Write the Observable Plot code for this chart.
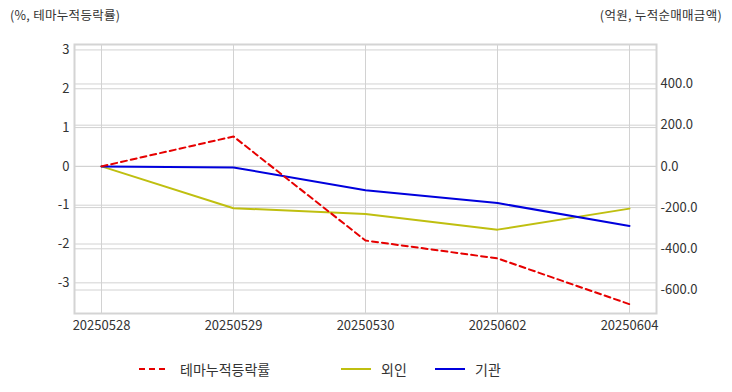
<!DOCTYPE html>
<html><head><meta charset="utf-8">
<script src="https://cdn.jsdelivr.net/npm/d3@7"></script>
<script src="https://cdn.jsdelivr.net/npm/@observablehq/plot@0.6"></script>
<style>
body{margin:0;background:#fff;font-family:"Noto Sans CJK KR","Noto Sans",sans-serif;color:#333;}
#wrap{position:relative;width:732px;height:392px;overflow:hidden;}
.t{position:absolute;top:7px;font-size:12.5px;letter-spacing:0.3px;line-height:16px;color:#333;white-space:nowrap;}
#chart{position:absolute;top:30px;left:0;}
#legend{position:absolute;top:359px;left:0;width:732px;height:20px;font-size:14px;color:#333;}
.item{position:absolute;top:0;height:20px;line-height:20px;white-space:nowrap;}
.item svg{position:absolute;top:0;left:0;}
.item span{position:absolute;top:0;}
</style>
</head><body>
<div id="wrap">
  <div class="t" style="left:10px;">(%, 테마누적등락률)</div>
  <div class="t" style="right:10px;">(억원, 누적순매매금액)</div>
  <div id="chart"></div>
  <div id="legend"></div>
</div>
<script>
const dates = ["20250528","20250529","20250530","20250602","20250604"];
const themeRate = [0, 0.77, -1.91, -2.37, -3.55];        // %, left axis
const foreignNet = [0, -203, -231, -307, -205];           // 억원, right axis
const institutionNet = [0, -5, -116, -178, -289];         // 억원, right axis
const leftTicks = [-3, -2, -1, 0, 1, 2, 3];
const rightTicks = [-600, -400, -200, 0, 200, 400];
const seriesNames = ["테마누적등락률", "외인", "기관"];
const seriesColors = ["#e60000", "#bfbf10", "#0000dd"];

const leftDomain = [-3.79, 3.14];
const rightDomain = [-713.6, 592];
const k = (rightDomain[1] - rightDomain[0]) / (leftDomain[1] - leftDomain[0]);

const themeData = dates.map((d, i) => ({date: d, v: themeRate[i]}));
const foreignData = dates.map((d, i) => ({date: d, v: foreignNet[i] / k}));
const instData = dates.map((d, i) => ({date: d, v: institutionNet[i] / k}));
const rightTickPos = rightTicks.map(v => v / k);

const chart = Plot.plot({
  width: 732, height: 310,
  marginTop: 14, marginBottom: 27, marginLeft: 74, marginRight: 76,
  style: {fontFamily: '"Noto Sans CJK KR","Noto Sans",sans-serif', fontSize: "13px", color: "#333", background: "#fff"},
  x: {type: "point", domain: dates, padding: 0.2},
  y: {domain: leftDomain},
  marks: [
    Plot.gridX(dates, {stroke: "#d2d2d2", strokeOpacity: 1, strokeWidth: 1}),
    Plot.gridY(leftTicks, {stroke: "#d2d2d2", strokeOpacity: 1, strokeWidth: 1}),
    Plot.gridY(rightTickPos, {stroke: "#d2d2d2", strokeOpacity: 1, strokeWidth: 1}),
    Plot.axisX({anchor: "bottom", tickSize: 0, tickPadding: 7, label: null, fill: "#333"}),
    Plot.axisY(leftTicks, {anchor: "left", tickSize: 0, tickPadding: 5, label: null, fill: "#333", tickFormat: d => String(d)}),
    Plot.axisY(rightTickPos, {anchor: "right", tickSize: 0, tickPadding: 4, label: null, fill: "#333",
      tickFormat: d => Math.round(d * k).toFixed(1)}),
    Plot.line(foreignData, {x: "date", y: "v", stroke: seriesColors[1], strokeWidth: 2}),
    Plot.line(instData, {x: "date", y: "v", stroke: seriesColors[2], strokeWidth: 2}),
    Plot.line(themeData, {x: "date", y: "v", stroke: seriesColors[0], strokeWidth: 2, strokeDasharray: "6,4"}),
    Plot.frame({stroke: "#d4d4d4", strokeWidth: 2})
  ]
});
document.getElementById("chart").appendChild(chart);

// legend
const legend = document.getElementById("legend");
const items = [
  {name: seriesNames[0], color: seriesColors[0], dash: "6,4", left: 139, textLeft: 41},
  {name: seriesNames[1], color: seriesColors[1], dash: null, left: 341, textLeft: 40},
  {name: seriesNames[2], color: seriesColors[2], dash: null, left: 435, textLeft: 40}
];
items.forEach(it => {
  const div = document.createElement("div");
  div.className = "item";
  div.style.left = it.left + "px";
  div.innerHTML = `<svg width="32" height="20"><line x1="0" x2="30" y1="10" y2="10" stroke="${it.color}" stroke-width="2" ${it.dash ? `stroke-dasharray="${it.dash}"` : ""}/></svg><span style="left:${it.textLeft}px">${it.name}</span>`;
  legend.appendChild(div);
});
</script>
</body></html>
